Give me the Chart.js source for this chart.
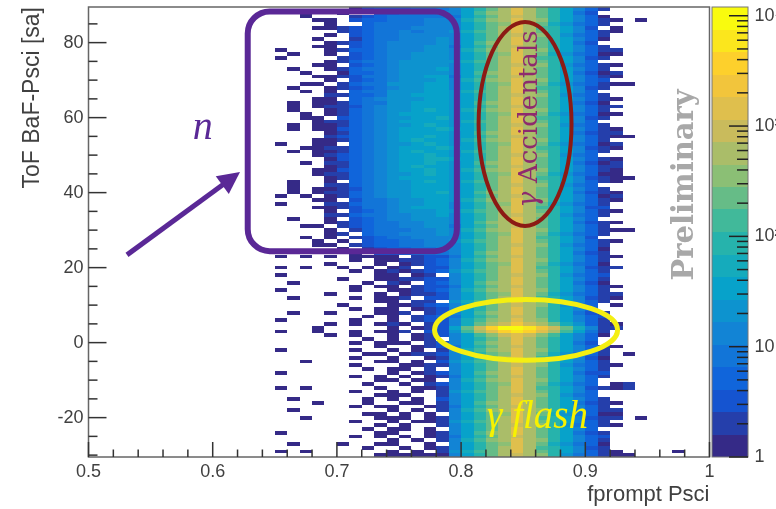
<!DOCTYPE html>
<html>
<head>
<meta charset="utf-8">
<script src="https://cdn.jsdelivr.net/npm/chart.js@4.4.0/dist/chart.umd.min.js"></script>
<style>
  html, body { margin: 0; padding: 0; background: #fff; }
  #wrap { width: 776px; height: 509px; }
</style>
</head>
<body>
<div id="wrap"><canvas id="chart" width="776" height="509"></canvas></div>
<script>
'use strict';

// binning of the 2D histogram
const xMin = 0.5, xMax = 1.0, binW = 0.01;
const yMin = -30.5, yMax = 89.5;
const firstCol = 0.64;   // left edge of the first stored column
const topRow = 89;       // y bin of the first stored row
const zMax = 12000, nLevels = 20;

const xTicks = [0.5, 0.6, 0.7, 0.8, 0.9, 1.0];
const yTicks = [-20, 0, 20, 40, 60, 80];
const zTicks = [1, 10, 100, 1000, 10000];
const zLabels = ['1', '10', '10²', '10³', '10⁴'];

// one string per y bin (89 down to -30), one char per x bin from 0.64 to 0.97
// '.' = empty, 0-9 a-j = colour level 0..19
const rows = [
  "..... ..023 33444 579bdfdb9753 1......",
  "...0. .0..3 34445 57acdfdb9742 .......",
  "...0. ..123 44444 479bdedb9753 0......",
  "....0 0.233 44455 58acdfdc9753 10.0...",
  "..... 0..34 44455 579bcfdb8643 1......",
  "....0 01234 44555 579bdfda9752 .0.....",
  "..... .1234 45455 68abdfdb9753 10.....",
  "..... 0.234 45555 579bdedc9643 1......",
  "....0 ..134 45556 579bdfdb9753 0......",
  "..... 01234 55556 57acdfdb9742 .......",
  "....0 0.234 55566 479bdedb9753 1......",
  ".0... 01334 55566 58acdfdc9753 11.....",
  "..0.. 0.234 55666 579bcfdb8643 00.....",
  ".0... .1234 55666 579bdfda9752 1......",
  "..... 01344 56666 68abdfdb9753 .......",
  "....0 0.234 56666 579bdedc9643 10.....",
  "..0.. 01344 56667 579bdfdb9753 1......",
  "...0. .0334 56666 57acdfdb9742 01.....",
  "....0 01244 56677 479bdedb9753 10.....",
  "..... 0.234 56667 58acdfdc9753 2......",
  "...00 .1344 66677 579bcfdb8643 100....",
  "..0.. 01234 56677 579bdfda9752 1......",
  "...0. 0.344 66677 68abdfdb9753 .......",
  "..... 11334 66777 679bdedc9643 1......",
  "....0 0.345 66677 679bdfdb9753 10.....",
  "..0.0 01344 66777 67acdfdb9742 0......",
  "..0.0 11245 66777 679bdedb9753 11.....",
  "..0.. 01345 66787 68acdfdc9753 1......",
  "...0. 01345 67777 679bcfdb8643 00.....",
  "...00 .2345 66778 679bdfda9752 1......",
  "....0 11345 67777 68abdfdb9753 .......",
  "..0.0 01345 66787 679bdedc9643 1......",
  "..0.0 02345 67778 779bdfdb9753 10.....",
  "..... 01345 67777 67acdfdb9742 11.....",
  "..... 12345 67787 679bdedb9753 100....",
  "....0 01345 67877 68acdfdc9753 1......",
  ".0..0 0.345 66787 679bcfdb8643 01.....",
  "...00 11345 67778 779bdfda9752 10.....",
  "..0.0 01345 67877 68abdfdb9753 1......",
  "....0 12345 67787 679bdedc9643 .......",
  "..... 02345 67788 779bdfdb9753 10.....",
  "...0. 11345 67787 67acdfdb9742 01.....",
  "..... 01345 67877 679bdedb9753 11.....",
  "....0 02345 67787 68acdfdc9753 10.....",
  "....0 11345 66787 679bcfdb8643 00.....",
  "..... 01345 67777 679bdfda9752 100....",
  "..0.. 0.345 66787 68abdfdb9753 10.....",
  "..0.. 11345 66777 679bdedc9643 .......",
  "..0.0 01245 66777 679bdfdb9753 1......",
  "..0.0 11345 66778 67acdfdb9742 10.....",
  ".0.0. 01345 66777 679bdedb9753 01.....",
  "....0 0.244 56677 68acdfdc9753 10.....",
  ".0... 11344 56677 579bcfdb8643 1......",
  "....0 01244 56777 579bdfda9752 2......",
  "..... 0.234 56667 68abdfdb9753 10.....",
  "..... 11344 55667 579bdedc9643 1......",
  "..0.. 0.234 55666 579bdfdb9753 .......",
  "..... 01234 45566 57acdfdb9742 10.....",
  "...00 .1234 45566 479bdedb9753 1......",
  "..... 0.134 44556 58acdfdc9753 100....",
  "..... 01.34 45556 579bcfdb8643 1......",
  "...0. 0.123 44555 579bdfda9752 .......",
  "....0 .0.23 34455 68abdfdb9753 10.....",
  "....0 0.123 34455 579bdedc9643 1......",
  "..... .0.12 33445 579bdfdb9753 0......",
  "..... ..0.2 23444 57acdfdb9742 1......",
  ".0.0. 0.000 0.122 479bdedb9753 10.....",
  "..... ..0.0 01123 58acdfdc9753 1......",
  "..... 0...0 .0123 579bcfdb8643 0......",
  ".0.0. .0.0. 01.22 579bdfda9752 11.....",
  "..... ..0.0 10123 68abdfdb9753 1......",
  ".0... ....0 0.01. 579bdedc9643 2......",
  "..... .0..0 01122 579bdfdb9753 1......",
  "..0.. ...0. 10.23 57acdfdb9742 0......",
  "..... ..0.0 0.122 479bdedb9753 10.....",
  ".0... ..0.. 00123 58acdfdc9753 1......",
  "..... 0...0 .0112 579bcfdb8643 11.....",
  "..0.. ..0.0 01.22 579bdfda9752 10.....",
  "..... ....0 0.11. 68abdfdb9753 1......",
  "..... .0... 00123 579bdedc9643 .0.....",
  "..... ..0.0 0.012 579bdfdb9753 .......",
  "..0.. 0...0 01.12 57acdfdb9742 1......",
  "..... ...0. 0.123 479bdedb9753 2......",
  ".0... ..0.. 0.122 58acdfdc9753 1......",
  "..... 0.0.0 10.12 58bdegedb863 10.....",
  "....0 ..... 0.012 7behjjigeb85 11.....",
  ".0..0 ..0.0 01.22 6adfhihfda74 1......",
  "..... 0.0.. 0.012 57acefeca753 0......",
  "..... ...0. 0.01. 579bdfdb9753 .......",
  "..... ..0.0 00.12 57acdfdb9742 .......",
  "..... ....0 ..012 479bdedb9753 10.....",
  ".0... ..0.. 0.0.1 58acdfdc9753 1......",
  "..... ...00 .0112 579bcfdb8643 1.0....",
  "..... ..0.. 0..01 579bdfda9752 0......",
  "...0. ....0 0.0.2 68abdfdb9753 1......",
  "..... ..0.. .0011 579bdedc9643 10.....",
  "..... ...0. 00.1. 579bdfdb9753 1......",
  ".0... ..... 0.012 57acdfdb9742 2......",
  "..... ..0.0 .0.01 479bdedb9753 1......",
  "..... ....0 0.00. 58acdfdc9753 .......",
  "..... ...0. .0.12 579bcfdb8643 .01....",
  ".0.0. ....0 ..001 579bdfda9752 101....",
  "..... ..0.. 0.0.1 68abdfdb9753 .......",
  "..... ....0 00..1 579bdedc9643 .......",
  "..0.. ...0. 0.0.2 579bdfdb9753 1......",
  "....0 ...0. .00.1 57acdfdb9742 10.....",
  "..... ..0.0 0..01 479bdedb9753 1......",
  "..0.. ..... 0.0.1 58acdfdc9753 11.....",
  "..... ...00 .0.0. 579bcfdb8643 00.....",
  "...0. ....0 00.01 579bdfda9752 11.0...",
  "..... ..0.. 0.001 68abdfdb9753 1......",
  "..... ....0 .0..1 579bdedc9643 10.....",
  "..... ...0. 00.0. 579bdfdb9753 .......",
  ".0... ....0 0..01 57acdfdb9742 1......",
  "..... ..0.0 .0.01 479bdedb9753 2......",
  "..... ..... 0.0.1 58acdfdc9753 1......",
  "..0.. .0..0 0..0. 579bcfdb8643 0......",
  "..... ...0. .0.01 579bdfda9752 1......",
  ".0.0. ..... 0.0.1 68abdfdb9753 10....0",
  "..... ....0 00000 579bdedc9643 100...."
];

// ROOT kBird palette
const birdStops = [0.0, 0.125, 0.25, 0.375, 0.5, 0.625, 0.75, 0.875, 1.0];
const birdR = [0.2082, 0.0592, 0.0780, 0.0232, 0.1802, 0.5301, 0.8186, 0.9956, 0.9764];
const birdG = [0.1664, 0.3599, 0.5041, 0.6419, 0.7178, 0.7492, 0.7328, 0.7862, 0.9832];
const birdB = [0.5293, 0.8684, 0.8385, 0.7914, 0.6425, 0.4662, 0.3499, 0.1968, 0.0539];

function birdColor (t) {
    let i = Math.min(birdStops.length - 2, Math.floor(t / 0.125));
    let f = (t - birdStops[i]) / (birdStops[i + 1] - birdStops[i]);
    let r = Math.round(255 * (birdR[i] + f * (birdR[i + 1] - birdR[i])));
    let g = Math.round(255 * (birdG[i] + f * (birdG[i + 1] - birdG[i])));
    let b = Math.round(255 * (birdB[i] + f * (birdB[i + 1] - birdB[i])));
    return 'rgb(' + r + ',' + g + ',' + b + ')';
}

const step = Math.log10(zMax) / nLevels;

// rows -> cells with counts
let cells = [];
for (let r = 0; r < rows.length; r++) {
    let s = rows[r].replace(/ /g, '');
    for (let c = 0; c < s.length; c++) {
        if (s[c] === '.') continue;
        let lev = parseInt(s[c], 20);
        cells.push({ x: firstCol + c * binW + binW / 2, y: topRow - r, v: Math.pow(10, (lev + 0.5) * step) });
    }
}

// annotations, in data coordinates
const nBox = { x0: 0.6282, x1: 0.7966, y0: 24.4, y1: 88.3 };
const nArrow = { x0: 0.531, y0: 23.4, x1: 0.622, y1: 45.5 };
const nLabel = { x: 0.592, y: 57.2 };
const accEllipse = { x: 0.8515, y: 58.3, rx: 0.0374, ry: 27.2 };
const accLabel = { x: 0.8555, y: 59.6 };
const flashEllipse = { x: 0.8523, y: 3.4, rx: 0.0737, ry: 8.13 };
const flashLabel = { x: 0.8209, y: -22.7 };
const prelimLabel = { x: 0.9803, y: 42.05 };

const sansFont = '"Liberation Sans", Arial, sans-serif';
const axisGrey = '#404040';

function line (ctx, x0, y0, x1, y1) {
    ctx.beginPath();
    ctx.moveTo(x0, y0);
    ctx.lineTo(x1, y1);
    ctx.stroke();
}

// keep chart area fixed: no extra label padding from the axes
function noPad (s) {
    s.paddingTop = 0;
    s.paddingBottom = 0;
    s.paddingLeft = 0;
    s.paddingRight = 0;
}

const heatmap = {
    id: 'heatmap',
    beforeDatasetsDraw (chart) {
        const { ctx, chartArea: a, scales: { x, y } } = chart;
        ctx.save();
        ctx.beginPath();
        ctx.rect(a.left, a.top, a.right - a.left, a.bottom - a.top);
        ctx.clip();
        for (const d of chart.data.datasets[0].data) {
            let lev = Math.min(nLevels - 1, Math.floor(Math.log10(d.v) / step));
            let x0 = Math.round(x.getPixelForValue(d.x - binW / 2));
            let x1 = Math.round(x.getPixelForValue(d.x + binW / 2));
            let y0 = Math.round(y.getPixelForValue(d.y + 0.5));
            let y1 = Math.round(y.getPixelForValue(d.y - 0.5));
            ctx.fillStyle = birdColor(lev / (nLevels - 1));
            ctx.fillRect(x0, y0, x1 - x0, y1 - y0);
        }
        ctx.restore();
    },
    afterDraw (chart) {
        const { ctx, chartArea: a, scales: { x, y, cbar } } = chart;
        ctx.save();

        // frame
        ctx.strokeStyle = '#666';
        ctx.lineWidth = 1.5;
        ctx.strokeRect(a.left, a.top, a.right - a.left, a.bottom - a.top);

        // ticks drawn inside the frame
        ctx.strokeStyle = '#333';
        ctx.lineWidth = 1.5;
        for (let k = 0; k <= 25; k++) {
            let v = xMin + k * 0.02;
            let px = x.getPixelForValue(v);
            line(ctx, px, a.bottom, px, a.bottom - (k % 5 === 0 ? 15 : 7.5));
        }
        for (let v = -30; v <= 85; v += 5) {
            let py = y.getPixelForValue(v);
            line(ctx, a.left, py, a.left + (v % 20 === 0 ? 18 : 9), py);
        }

        // colour bar
        let cbL = cbar.left + 2.5, cbR = cbar.left + 38.5;
        for (let b = 0; b < nLevels; b++) {
            let yb = cbar.getPixelForValue(Math.pow(10, b * step));
            let yt = cbar.getPixelForValue(Math.pow(10, (b + 1) * step));
            ctx.fillStyle = birdColor(b / (nLevels - 1));
            ctx.fillRect(cbL, Math.round(yt), cbR - cbL, Math.round(yb) - Math.round(yt));
        }
        ctx.strokeStyle = '#777';
        ctx.lineWidth = 1;
        ctx.strokeRect(cbL, cbar.top, cbR - cbL, cbar.bottom - cbar.top);
        ctx.strokeStyle = '#222';
        ctx.lineWidth = 1.5;
        for (let d = 0; d <= 4; d++) {
            for (let m = 1; m <= 9; m++) {
                let v = m * Math.pow(10, d);
                if (v > zMax) break;
                let py = cbar.getPixelForValue(v);
                line(ctx, cbR, py, cbR - (m === 1 ? 19 : 11), py);
            }
        }

        // purple box + arrow + n
        const purple = '#5a2896';
        let bx0 = x.getPixelForValue(nBox.x0), bx1 = x.getPixelForValue(nBox.x1);
        let by0 = y.getPixelForValue(nBox.y1), by1 = y.getPixelForValue(nBox.y0);
        let rad = 22;
        ctx.strokeStyle = purple;
        ctx.lineWidth = 6;
        ctx.beginPath();
        ctx.moveTo(bx0 + rad, by0);
        ctx.arcTo(bx1, by0, bx1, by1, rad);
        ctx.arcTo(bx1, by1, bx0, by1, rad);
        ctx.arcTo(bx0, by1, bx0, by0, rad);
        ctx.arcTo(bx0, by0, bx1, by0, rad);
        ctx.closePath();
        ctx.stroke();

        let ax0 = x.getPixelForValue(nArrow.x0), ay0 = y.getPixelForValue(nArrow.y0);
        let ax1 = x.getPixelForValue(nArrow.x1), ay1 = y.getPixelForValue(nArrow.y1);
        let ang = Math.atan2(ay1 - ay0, ax1 - ax0);
        let headL = 22, headW = 11;
        ctx.lineWidth = 5;
        line(ctx, ax0, ay0, ax1 - headL * 0.8 * Math.cos(ang), ay1 - headL * 0.8 * Math.sin(ang));
        ctx.fillStyle = purple;
        ctx.beginPath();
        ctx.moveTo(ax1, ay1);
        ctx.lineTo(ax1 - headL * Math.cos(ang) + headW * Math.sin(ang), ay1 - headL * Math.sin(ang) - headW * Math.cos(ang));
        ctx.lineTo(ax1 - headL * Math.cos(ang) - headW * Math.sin(ang), ay1 - headL * Math.sin(ang) + headW * Math.cos(ang));
        ctx.closePath();
        ctx.fill();

        ctx.font = 'italic 40px "Liberation Serif", serif';
        ctx.textAlign = 'center';
        ctx.textBaseline = 'middle';
        ctx.fillText('n', x.getPixelForValue(nLabel.x), y.getPixelForValue(nLabel.y));

        // accidentals ellipse + label
        let ex = x.getPixelForValue(accEllipse.x), ey = y.getPixelForValue(accEllipse.y);
        ctx.strokeStyle = '#8c1a14';
        ctx.lineWidth = 4;
        ctx.beginPath();
        ctx.ellipse(ex, ey, x.getPixelForValue(accEllipse.x + accEllipse.rx) - ex, ey - y.getPixelForValue(accEllipse.y + accEllipse.ry), 0, 0, 2 * Math.PI);
        ctx.stroke();

        ctx.save();
        ctx.translate(x.getPixelForValue(accLabel.x), y.getPixelForValue(accLabel.y));
        ctx.rotate(-Math.PI / 2);
        ctx.fillStyle = '#8e2a6e';
        ctx.textAlign = 'left';
        ctx.textBaseline = 'middle';
        let gFont = 'italic 27px "DejaVu Serif", serif';
        let tFont = '26px "DejaVu Serif", serif';
        ctx.font = gFont;
        let gw = ctx.measureText('γ ').width;
        ctx.font = tFont;
        let tw = ctx.measureText('Accidentals').width;
        ctx.font = gFont;
        ctx.fillText('γ', -(gw + tw) / 2, 0);
        ctx.font = tFont;
        ctx.fillText('Accidentals', -(gw + tw) / 2 + gw, 0);
        ctx.restore();

        // flash ellipse + label
        let fx = x.getPixelForValue(flashEllipse.x), fy = y.getPixelForValue(flashEllipse.y);
        ctx.strokeStyle = '#f4ef12';
        ctx.lineWidth = 5;
        ctx.beginPath();
        ctx.ellipse(fx, fy, x.getPixelForValue(flashEllipse.x + flashEllipse.rx) - fx, fy - y.getPixelForValue(flashEllipse.y + flashEllipse.ry), 0, 0, 2 * Math.PI);
        ctx.stroke();

        ctx.fillStyle = '#f7f200';
        ctx.font = 'italic 39px "Liberation Serif", serif';
        ctx.textAlign = 'left';
        ctx.textBaseline = 'alphabetic';
        ctx.fillText('γ flash', x.getPixelForValue(flashLabel.x), y.getPixelForValue(flashLabel.y));

        // Preliminary
        ctx.save();
        ctx.translate(x.getPixelForValue(prelimLabel.x), y.getPixelForValue(prelimLabel.y));
        ctx.rotate(-Math.PI / 2);
        ctx.fillStyle = '#a8a8a8';
        ctx.font = 'bold 29px "DejaVu Serif", serif';
        ctx.textAlign = 'center';
        ctx.textBaseline = 'middle';
        ctx.fillText('Preliminary', 0, 0);
        ctx.restore();

        ctx.restore();
    }
};

let chartSpot = document.getElementById('chart').getContext('2d');
let myChart = new Chart(chartSpot, {
    type: 'scatter',
    data: {
        datasets: [{
            label: 'counts',
            data: cells,
            pointRadius: 0,
            pointHoverRadius: 0,
        }],
    },
    options: {
        responsive: false,
        animation: false,
        events: [],
        layout: { padding: { top: 7, left: 0, right: 0, bottom: 0 } },
        plugins: {
            legend: { display: false },
            tooltip: { enabled: false },
        },
        scales: {
            x: {
                type: 'linear',
                min: xMin,
                max: xMax,
                grid: { display: false, drawTicks: false },
                border: { display: false },
                afterBuildTicks: s => { s.ticks = xTicks.map(v => ({ value: v })); },
                afterFit: s => { s.height = 52; noPad(s); },
                ticks: {
                    autoSkip: false,
                    maxRotation: 0,
                    padding: 4,
                    color: axisGrey,
                    font: { family: sansFont, size: 18 },
                    callback: v => (v === 1 ? '1' : v.toFixed(1)),
                },
                title: {
                    display: true,
                    text: 'fprompt Psci',
                    align: 'end',
                    color: axisGrey,
                    font: { family: sansFont, size: 22 },
                    padding: { top: 0, bottom: 1 },
                },
            },
            y: {
                type: 'linear',
                min: yMin,
                max: yMax,
                grid: { display: false, drawTicks: false },
                border: { display: false },
                afterBuildTicks: s => { s.ticks = yTicks.map(v => ({ value: v })); },
                afterFit: s => { s.width = 88.5; noPad(s); },
                ticks: {
                    autoSkip: false,
                    padding: 5,
                    color: axisGrey,
                    font: { family: sansFont, size: 18 },
                    callback: v => String(v),
                },
                title: {
                    display: true,
                    text: 'ToF BaF-Psci [sa]',
                    align: 'end',
                    color: axisGrey,
                    font: { family: sansFont, size: 23 },
                    padding: { top: 19, bottom: 0 },
                },
            },
            cbar: {
                type: 'logarithmic',
                position: 'right',
                min: 1,
                max: zMax,
                grid: { display: false, drawTicks: false },
                border: { display: false },
                afterBuildTicks: s => { s.ticks = zTicks.map(v => ({ value: v })); },
                afterFit: s => { s.width = 66.5; noPad(s); },
                ticks: {
                    autoSkip: false,
                    padding: 45,
                    color: axisGrey,
                    font: { family: sansFont, size: 18 },
                    callback: v => zLabels[zTicks.indexOf(v)],
                },
            },
        },
    },
    plugins: [heatmap],
});
</script>
</body>
</html>
